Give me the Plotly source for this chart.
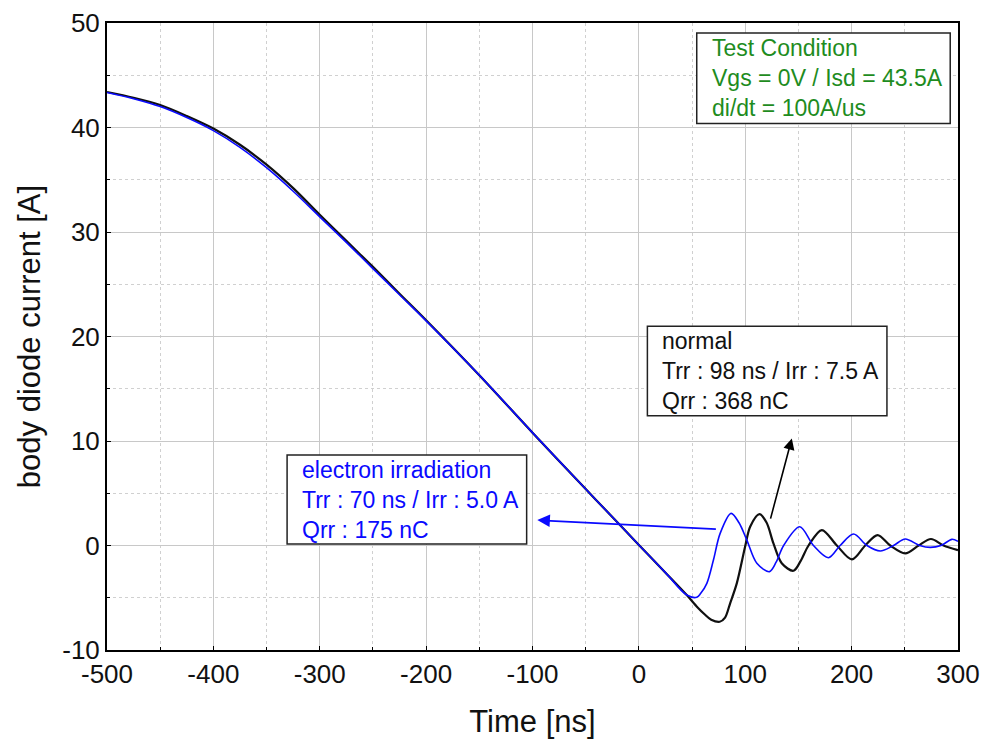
import plotly.graph_objects as go

# ---- data ----
t_normal = [-500, -475, -450, -425, -400, -375, -350, -325, -300, -275, -250, -225, -200,
            -150, -100, -50, -20, 0, 25, 45, 55, 62, 68, 76, 81, 85.8, 92.1, 99.9,
            104.6, 113.3, 120, 126.5, 134.3, 145.3, 152, 159.5, 172, 186.1, 200.3, 212.8,
            224.4, 236.3, 250.4, 263, 274.6, 286.4, 300]
i_normal = [43.4, 42.85, 42.15, 41.1, 39.9, 38.35, 36.45, 34.2, 31.65, 29.15, 26.66, 24.1, 21.56,
            16.3, 10.8, 5.4, 2.2, 0.05, -2.6, -4.74, -5.9, -6.6, -7.1, -7.3, -6.9, -5.53,
            -3.6, -0.1, 1.8, 3.0, 2.2, 0.2, -1.7, -2.42, -1.5, 0.0, 1.48, 0.0, -1.33, 0.0,
            1.0, 0.0, -0.75, 0.0, 0.62, 0.0, -0.44]

t_irr = [-500, -475, -450, -425, -400, -375, -350, -325, -300, -275, -250, -225, -200,
         -150, -100, -50, -20, 0, 25, 45, 54.4, 58, 63.9, 70.1, 76.4, 86.7, 94, 101.5,
         110.9, 122.8, 129, 136.1, 151.3, 164.1, 178.2, 189.2, 201.8, 214.4, 226.9, 239.4,
         250.4, 264, 274, 284, 294.3, 300]
i_irr = [43.35, 42.75, 42.0, 40.95, 39.7, 38.1, 36.15, 33.9, 31.45, 29.0, 26.5, 24.0, 21.5,
         16.3, 10.8, 5.4, 2.2, 0.05, -2.6, -4.74, -4.96, -4.6, -3.62, -1.39, 1.16, 3.07,
         2.2, 0.52, -1.7, -2.5, -1.6, 0.0, 1.79, 0.0, -1.17, 0.0, 1.1, 0.0, -0.53, 0.0, 0.62,
         0.0, -0.18, 0.0, 0.59, 0.4]

x_ticks = [-500, -400, -300, -200, -100, 0, 100, 200, 300]
y_ticks = [-10, 0, 10, 20, 30, 40, 50]

cond_text = "Test Condition<br>Vgs = 0V / Isd = 43.5A<br>di/dt = 100A/us"
normal_text = "normal<br>Trr : 98 ns / Irr : 7.5 A<br>Qrr : 368 nC"
irr_text = "electron irradiation<br>Trr : 70 ns / Irr : 5.0 A<br>Qrr : 175 nC"

FONT = "Liberation Sans, Arial, sans-serif"
GREEN = "#1e8c1e"
BLUE = "#0a0aff"

fig = go.Figure()
fig.add_trace(go.Scatter(x=t_normal, y=i_normal, mode="lines", name="normal",
                         line=dict(color="#101010", width=2.2, shape="spline", smoothing=0.9)))
fig.add_trace(go.Scatter(x=t_irr, y=i_irr, mode="lines", name="electron irradiation",
                         line=dict(color=BLUE, width=1.6, shape="spline", smoothing=0.9)))

axis_common = dict(
    showgrid=True, gridcolor="#c8c8c8", gridwidth=1,
    ticks="inside", ticklen=4, tickcolor="black", tickwidth=1,
    showline=True, linecolor="black", linewidth=2, mirror=True,
    zeroline=False, automargin=False,
    tickfont=dict(size=26, family=FONT, color="#111"),
)

fig.update_xaxes(range=[-500, 300], tickmode="array", tickvals=x_ticks,
                 ticktext=[str(v) for v in x_ticks],
                 minor=dict(dtick=50, tick0=0, showgrid=True, gridcolor="#d0d0d0",
                            griddash="dot", gridwidth=1, ticks="inside", ticklen=3,
                            tickcolor="black"),
                 title=dict(text="Time [ns]", font=dict(size=31, family=FONT, color="#111"),
                            standoff=22),
                 **axis_common)
fig.update_yaxes(range=[-10, 50], tickmode="array", tickvals=y_ticks,
                 ticktext=[str(v) for v in y_ticks],
                 minor=dict(dtick=5, tick0=0, showgrid=True, gridcolor="#d0d0d0",
                            griddash="dot", gridwidth=1, ticks="inside", ticklen=3,
                            tickcolor="black"),
                 title=dict(text="body diode current [A]",
                            font=dict(size=31, family=FONT, color="#111"), standoff=12),
                 **axis_common)

# annotation boxes
boxes = [
    (54.4, 292.7, 40.38, 49.04),
    (8.0, 233.2, 12.41, 20.99),
    (-330.7, -105.5, 0.14, 8.65),
]
for x0, x1, y0, y1 in boxes:
    fig.add_shape(type="rect", xref="x", yref="y", x0=x0, x1=x1, y0=y0, y1=y1,
                  line=dict(color="#222", width=1.5), fillcolor="white", layer="above")

texts = [
    (67.0, 44.71, cond_text, GREEN),
    (19.9, 16.7, normal_text, "#111"),
    (-318.7, 4.4, irr_text, BLUE),
]
for x, y, txt, col in texts:
    fig.add_annotation(x=x, y=y, xref="x", yref="y", text=txt, showarrow=False,
                       xanchor="left", yanchor="middle", align="left",
                       font=dict(size=23, family=FONT, color=col))

# arrows
fig.add_annotation(x=143.8, y=10.25, ax=123.4, ay=2.43, xref="x", yref="y",
                   axref="x", ayref="y", text="", showarrow=True,
                   arrowhead=2, arrowsize=1.4, arrowwidth=1.6, arrowcolor="black")
fig.add_annotation(x=-95.5, y=2.43, ax=73.8, ay=1.55, xref="x", yref="y",
                   axref="x", ayref="y", text="", showarrow=True,
                   arrowhead=2, arrowsize=1.4, arrowwidth=1.8, arrowcolor=BLUE)

fig.update_layout(
    width=981, height=741,
    margin=dict(l=107, r=23, t=23, b=91),
    paper_bgcolor="white", plot_bgcolor="white",
    showlegend=False,
    font=dict(family=FONT, color="#111"),
)

fig.write_html("out.html",
               config={"displayModeBar": False},
               post_script="document.body.style.margin='0';document.body.style.overflow='hidden';")
